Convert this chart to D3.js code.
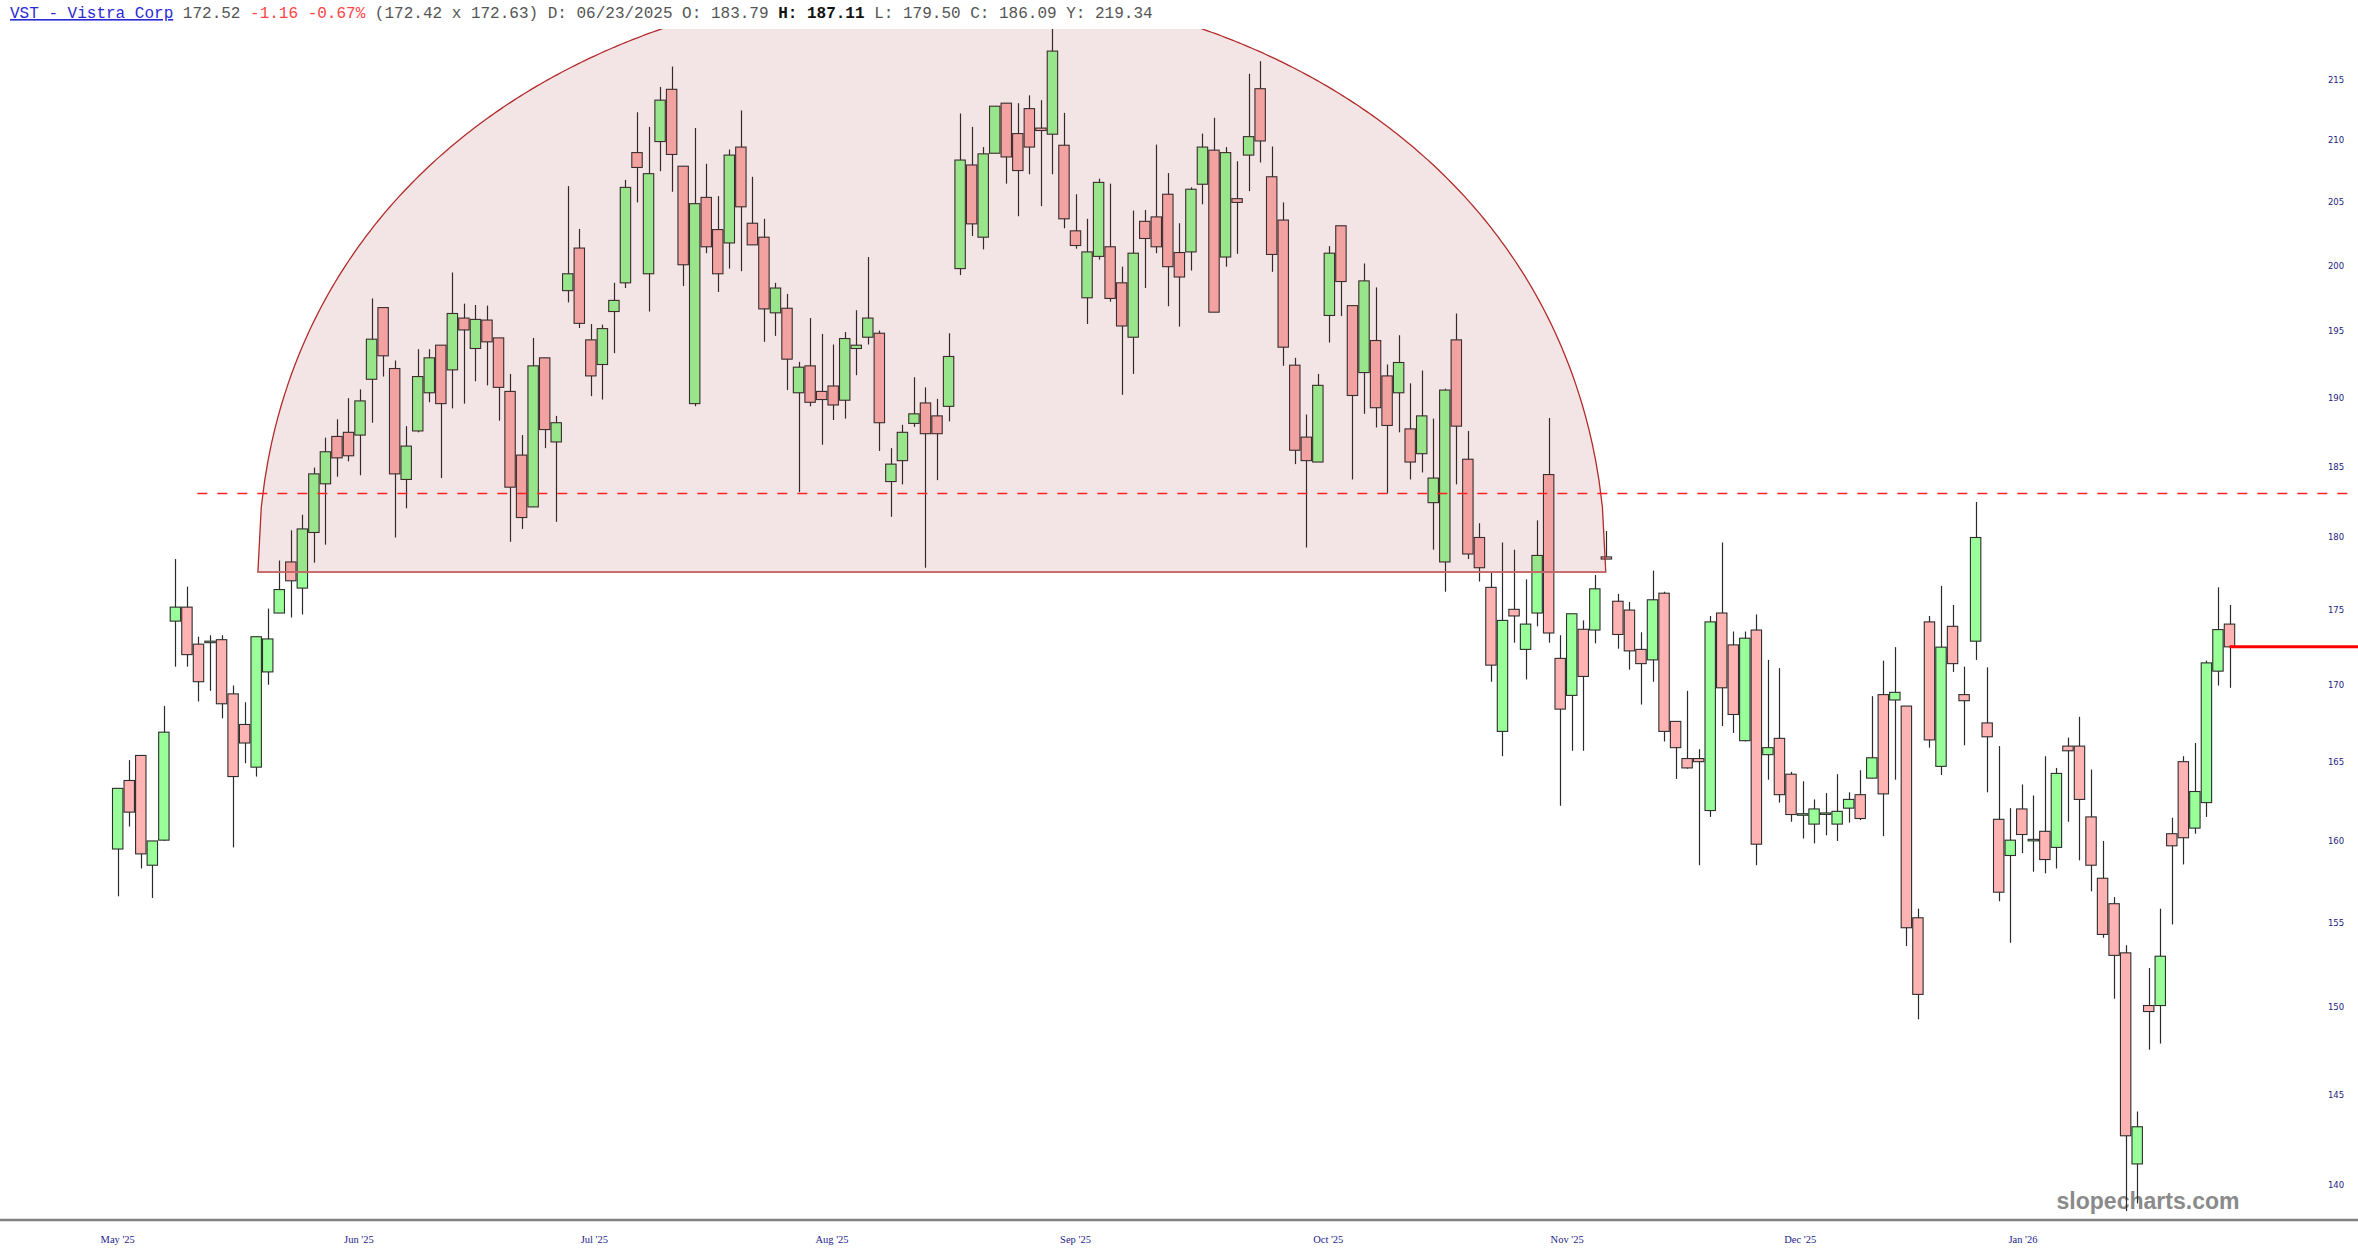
<!DOCTYPE html>
<html><head><meta charset="utf-8">
<script src="https://cdn.jsdelivr.net/npm/d3@7"></script>
<style>html,body{margin:0;padding:0;background:#fff;overflow:hidden}</style>
</head><body>
<svg id="chart" width="2358" height="1260"></svg>
<script>
// ---- data ----
const openP = [159.5,163.8,165.4,158.5,160.05,174.25,175.2,172.7,172.8,173.0,169.4,167.4,164.65,170.85,174.8,178.3,176.5,180.35,183.79,187.2,
187.5,187.3,191.4,196.8,192.2,184.1,187.6,190.4,193.95,192.1,196.0,193.7,195.85,194.5,190.5,185.85,182.15,193.0,186.8,198.1,
201.4,194.35,192.5,196.5,198.7,209.0,199.4,209.9,214.2,207.9,189.6,205.4,202.85,201.8,209.45,203.35,202.25,196.4,196.75,190.4,
192.4,190.5,190.9,189.85,193.7,194.55,194.85,183.95,185.45,188.15,189.65,188.7,189.4,199.8,208.0,202.25,208.95,213.05,210.55,212.6,
211.0,210.5,209.6,202.75,197.55,200.75,201.5,198.7,194.55,203.5,203.85,205.65,201.05,201.1,206.45,209.2,200.7,205.3,208.8,214.25,
207.05,203.6,192.45,187.15,185.35,196.2,203.15,196.95,191.9,194.3,191.65,190.4,187.75,185.95,182.45,178.3,194.35,185.55,180.0,176.55,
166.95,175.05,172.35,174.8,184.45,171.75,169.3,173.7,173.65,178.65,175.6,175.0,172.35,171.65,176.15,167.6,165.2,165.2,161.9,174.8,
172.65,166.35,173.65,165.45,166.5,164.2,161.65,161.05,161.7,161.05,162.05,162.9,163.95,169.35,169.0,168.6,155.3,174.2,164.7,173.9,
169.35,172.9,167.5,161.35,159.1,162.0,160.05,160.6,159.6,166.0,166.0,161.5,157.7,156.15,153.2,141.15,150.1,150.1,160.45,165.0,
160.8,162.4,170.9,174.05];
const highP = [163.3,165.1,165.4,160.0,168.6,178.5,176.6,173.2,173.3,173.3,169.95,168.85,173.2,175.1,178.4,180.5,181.6,184.95,187.11,188.45,
190.0,190.65,197.5,196.8,192.8,187.95,193.65,193.65,193.95,199.5,197.1,197.0,196.95,194.5,191.8,187.3,194.5,193.0,188.7,206.3,
202.9,195.55,195.5,198.7,206.8,212.3,211.1,214.4,216.1,207.9,211.0,208.1,205.5,209.25,212.45,207.05,203.7,198.7,197.85,192.7,
196.0,194.8,194.0,194.95,196.6,200.7,195.05,186.35,188.05,191.55,190.8,189.95,194.85,212.2,211.1,209.45,212.8,213.05,213.05,213.7,
213.3,219.3,212.25,205.65,203.7,206.9,206.5,199.95,204.35,204.4,209.65,207.35,203.35,206.2,210.55,211.85,209.45,208.3,215.5,216.55,
209.5,205.0,193.0,188.8,191.8,201.55,203.15,196.95,200.2,198.35,192.5,194.7,191.1,192.05,188.5,190.7,196.35,187.6,181.0,177.55,
179.65,179.15,177.1,181.2,188.55,173.3,174.75,174.3,177.4,180.45,176.1,175.55,173.5,177.7,176.25,167.6,169.6,165.8,174.6,179.65,
173.55,173.55,174.7,171.65,171.1,164.35,163.75,162.6,163.0,164.2,163.05,164.45,169.25,171.6,172.5,168.6,155.85,174.6,176.65,175.35,
171.2,182.5,171.15,166.0,162.05,163.55,162.85,165.35,164.6,166.55,167.9,164.5,160.0,156.55,153.65,144.05,152.3,155.85,161.45,165.35,
166.2,171.6,176.55,175.35];
const lowP = [156.6,160.9,158.3,156.5,160.0,171.2,171.2,168.9,169.6,167.8,159.6,164.9,164.05,170.0,174.8,174.5,174.7,178.25,179.5,184.3,
185.4,184.4,188.2,191.6,180.0,182.05,187.5,189.7,184.2,189.25,189.6,191.25,190.95,188.35,179.7,180.6,182.15,186.35,181.1,197.2,
195.25,190.15,189.9,193.35,198.3,205.0,196.5,207.5,205.85,198.45,189.4,201.0,198.0,199.8,199.6,201.65,194.2,194.65,190.6,183.2,
189.4,186.6,188.4,188.5,191.7,194.0,186.15,181.45,183.75,187.9,177.9,184.05,188.3,199.3,202.35,201.3,208.95,206.5,203.9,207.25,
204.7,207.25,202.95,201.35,195.55,200.5,197.25,190.25,191.8,198.3,201.0,196.9,195.35,199.65,204.85,196.45,199.95,200.95,205.9,208.2,
199.55,192.4,185.2,179.3,185.35,194.15,196.15,184.1,188.85,187.85,183.1,187.5,184.1,184.6,179.15,176.25,183.75,178.5,176.95,170.2,
165.35,172.8,170.35,173.9,172.8,162.2,165.7,165.7,172.75,178.5,172.4,171.0,168.7,170.2,166.3,163.9,164.55,158.5,161.5,167.3,
166.85,166.3,158.5,163.85,162.4,161.2,160.15,159.85,160.35,160.0,161.15,161.3,163.95,160.3,163.85,153.6,149.3,165.9,164.15,170.85,
166.05,171.65,163.05,156.3,153.8,159.25,158.1,158.0,158.3,161.2,158.8,156.9,154.1,150.5,138.6,139.0,147.55,147.9,154.9,158.55,
160.45,161.5,169.95,169.8];
const closeP = [163.3,161.8,159.2,160.0,166.9,175.2,172.0,170.2,172.9,168.75,164.05,166.2,173.2,173.05,176.4,177.0,180.6,184.5,186.09,185.65,
185.8,189.8,194.4,193.15,184.5,186.5,191.6,193.0,189.6,196.35,195.1,195.9,194.2,190.8,183.55,181.4,192.4,187.7,188.2,199.4,
195.6,191.65,195.2,197.35,206.2,207.8,207.3,213.3,208.85,200.1,204.9,201.5,199.4,208.8,204.65,201.65,196.7,198.3,192.9,192.3,
189.7,189.9,189.5,194.45,193.95,196.0,188.2,185.2,187.5,188.85,187.4,187.4,193.1,208.4,203.3,208.9,212.8,208.65,207.55,209.45,
210.8,217.4,203.7,201.6,201.1,206.6,197.5,195.4,201.0,202.15,201.5,199.95,199.15,206.05,209.45,196.45,209.0,205.0,210.3,209.95,
200.9,193.8,186.2,185.45,190.95,201.0,198.8,190.2,198.85,189.3,188.0,192.65,185.35,188.7,184.2,190.6,187.95,178.85,177.9,171.3,
174.3,174.6,174.05,178.75,173.45,168.4,174.75,170.55,176.45,178.5,173.35,172.25,171.4,175.7,166.95,165.9,164.6,165.0,174.2,169.8,
168.05,173.1,159.8,165.9,162.9,161.65,161.7,162.0,161.75,161.85,162.6,161.4,165.25,162.95,169.5,154.7,150.75,166.4,172.5,171.4,
168.95,180.0,166.6,156.85,160.05,160.4,160.1,158.85,164.25,165.7,162.6,158.5,154.3,153.05,142.7,143.2,149.75,153.0,159.7,160.2,
163.1,171.45,173.68,172.52];
const monthLabels = ["May '25","Jun '25","Jul '25","Aug '25","Sep '25","Oct '25","Nov '25","Dec '25","Jan '26"];
const monthPos = [0, 20.9, 41.3, 61.9, 83.0, 104.9, 125.6, 145.8, 165.1];
const priceTicks = [140,145,150,155,160,165,170,175,180,185,190,195,200,205,210,215];
const lastPrice = 172.52;
const resistanceLevel = 183.1;
const resistanceStart = 6.9;
const domeStart = 12.15, domeEnd = 128.95, domeBase = 177.6, domePeak = 223.1;

// ---- layout ----
const W = 2358, H = 1260;
const svg = d3.select("#chart");
const n = openP.length;
const x = d3.scaleLinear().domain([0, n - 1]).range([117.7, 2229.5]);
const y = d3.scaleLog().domain([140, 215]).range([1185, 79.7]);
const bodyW = 10.4;

svg.append("defs").append("clipPath").attr("id","plotclip")
  .append("rect").attr("x",0).attr("y",29).attr("width",W).attr("height",1189);

// watermark
svg.append("text").attr("x",2148).attr("y",1209).attr("text-anchor","middle")
  .attr("font-family","'Liberation Sans', Arial, sans-serif").attr("font-weight","bold")
  .attr("font-size",23).attr("fill","#8a8a8a").attr("textLength",183).attr("lengthAdjust","spacingAndGlyphs")
  .text("slopecharts.com");

const plot = svg.append("g").attr("clip-path","url(#plotclip)");

// candles
const idx = d3.range(n);
const cg = plot.append("g");
cg.selectAll("line.wick").data(idx).join("line").attr("class","wick")
  .attr("x1", i => Math.round(x(i)) + 0.5).attr("x2", i => Math.round(x(i)) + 0.5)
  .attr("y1", i => y(highP[i])).attr("y2", i => y(lowP[i]))
  .attr("stroke","#2a2a2a").attr("stroke-width",1.2);
cg.selectAll("rect.body").data(idx).join("rect").attr("class","body")
  .attr("x", i => x(i) - bodyW/2)
  .attr("width", bodyW)
  .attr("y", i => y(Math.max(openP[i], closeP[i])))
  .attr("height", i => Math.max(1.5, y(Math.min(openP[i], closeP[i])) - y(Math.max(openP[i], closeP[i]))))
  .attr("fill", i => closeP[i] >= openP[i] ? "#99ff99" : "#ffb3b3")
  .attr("stroke","#2e2e2e").attr("stroke-width",1.1);

// dome overlay
const domePts = d3.range(0, 401).map(k => {
  const t = k / 400;
  const u = 2 * t - 1;
  return [domeStart + (domeEnd - domeStart) * t, domeBase + (domePeak - domeBase) * Math.sqrt(Math.max(0, 1 - u*u))];
});
const domeLine = d3.line().x(d => x(d[0])).y(d => y(d[1]));
plot.append("path").attr("d", domeLine(domePts) + "Z")
  .attr("fill","rgba(160,40,40,0.12)").attr("stroke","#b22a2a").attr("stroke-width",1.3);
plot.append("line").attr("x1", x(domeStart)).attr("x2", x(domeEnd))
  .attr("y1", y(domeBase)).attr("y2", y(domeBase))
  .attr("stroke","#c46a6a").attr("stroke-width",1.6);

// resistance dashed line
plot.append("line").attr("x1", x(resistanceStart)).attr("x2", 2350)
  .attr("y1", y(resistanceLevel)).attr("y2", y(resistanceLevel))
  .attr("stroke","#ff2020").attr("stroke-width",1.4).attr("stroke-dasharray","10,10");

// last price line
plot.append("line").attr("x1", x(n - 1)).attr("x2", W)
  .attr("y1", y(lastPrice)).attr("y2", y(lastPrice))
  .attr("stroke","#ff0000").attr("stroke-width",3);

// y labels
svg.append("g").selectAll("text").data(priceTicks).join("text")
  .attr("x", 2336).attr("y", d => y(d) + 3).attr("text-anchor","middle")
  .attr("font-family","'DejaVu Sans', Verdana, sans-serif").attr("font-size",8.5)
  .attr("fill","#1c1c80").text(d => d);

// x axis
svg.append("line").attr("x1",0).attr("x2",W).attr("y1",1220).attr("y2",1220)
  .attr("stroke","#808080").attr("stroke-width",2.5);
svg.append("g").selectAll("text").data(monthLabels).join("text")
  .attr("x", (d,i) => x(monthPos[i])).attr("y", 1243).attr("text-anchor","middle")
  .attr("font-family","'Liberation Serif', 'Times New Roman', serif").attr("font-size",10.5)
  .attr("fill","#1c1c8c").text(d => d);

// header
const hdr = svg.append("text").attr("x",10).attr("y",18)
  .attr("font-family","'Liberation Mono', 'Courier New', monospace").attr("font-size",16)
  .style("white-space","pre");
hdr.append("tspan").attr("fill","#2b2bd6").attr("text-decoration","underline").text("VST - Vistra Corp");
hdr.append("tspan").attr("fill","#555").text(" 172.52 ");
hdr.append("tspan").attr("fill","#ff4545").text("-1.16 -0.67%");
hdr.append("tspan").attr("fill","#555").text(" (172.42 x 172.63) D: 06/23/2025 O: 183.79 ");
hdr.append("tspan").attr("fill","#111").attr("font-weight","bold").text("H: 187.11");
hdr.append("tspan").attr("fill","#555").text(" L: 179.50 C: 186.09 Y: 219.34");
</script>
</body></html>
